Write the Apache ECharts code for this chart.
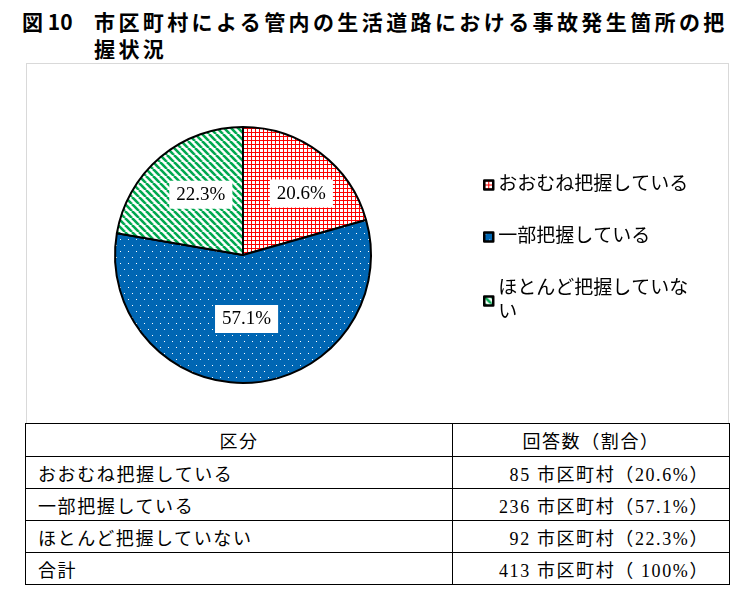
<!DOCTYPE html>
<html>

<head>
    <meta charset="utf-8">
    <title>図10 事故発生箇所の把握状況</title>
    <script src="https://cdn.jsdelivr.net/npm/echarts@6.0.0/dist/echarts.min.js"></script>
    <style>
        body { margin: 0; background: #fff; }
        #page { position: relative; width: 742px; height: 590px; overflow: hidden;
                font-family: 'Liberation Serif', 'Noto Sans CJK JP', serif; color: #000; }
        .title { position: absolute; font-family: 'Noto Sans CJK JP', sans-serif; font-weight: bold;
                 font-size: 21px; line-height: 26px; letter-spacing: 3.4px; white-space: nowrap; }
        #chartBox { position: absolute; left: 26px; top: 63px; width: 701px; height: 359px;
                    border: 1px solid #d9d9d9; }
        #myChart { width: 701px; height: 359px; }
        table { position: absolute; left: 25px; top: 423px; width: 705px; border-collapse: collapse;
                font-size: 18px; letter-spacing: 1.6px; }
        td { border: 1.5px solid #000; height: 31px; padding: 0; }
        td.lbl { padding-left: 12px; }
        td.val { text-align: right; padding-right: 20px; }
        tr.head td { text-align: center; height: 32px; }
    </style>
</head>

<body>
    <div id="page">
        <div class="title" style="left:22px; top:8px; letter-spacing:0;">図 10</div>
        <div class="title" style="left:94px; top:8px;">市区町村による管内の生活道路における事故発生箇所の把</div>
        <div class="title" style="left:94px; top:35px;">握状況</div>
        <div id="chartBox"><div id="myChart"></div></div>
        <table id="tbl"></table>
    </div>

    <script>
        // values
        const categories = ['おおむね把握している', '一部把握している', 'ほとんど把握していない'];
        const counts = [85, 236, 92];
        const percents = ['20.6', '57.1', '22.3'];
        const totalCount = 413;
        const totalPercent = '100';
        const headers = ['区分', '回答数（割合）'];

        // fill patterns like the original
        function gridPattern() {
            const c = document.createElement('canvas');
            c.width = 4; c.height = 4;
            const g = c.getContext('2d');
            g.fillStyle = '#fff'; g.fillRect(0, 0, 4, 4);
            g.fillStyle = '#ff0000';
            g.fillRect(0, 0, 4, 1);
            g.fillRect(0, 0, 1, 4);
            return { image: c, repeat: 'repeat' };
        }
        function dotPattern() {
            const c = document.createElement('canvas');
            c.width = 8; c.height = 12;
            const g = c.getContext('2d');
            g.fillStyle = '#0066b3'; g.fillRect(0, 0, 8, 12);
            g.fillStyle = '#ffffff';
            g.fillRect(1, 1, 1, 1);
            g.fillRect(5, 7, 1, 1);
            return { image: c, repeat: 'repeat' };
        }
        function stripePattern() {
            const c = document.createElement('canvas');
            c.width = 7; c.height = 7;
            const g = c.getContext('2d');
            g.fillStyle = '#fff'; g.fillRect(0, 0, 7, 7);
            g.strokeStyle = '#00a84f'; g.lineWidth = 2.6;
            [-7, 0, 7].forEach(k => {
                g.beginPath(); g.moveTo(k, 0); g.lineTo(k + 7, 7); g.stroke();
            });
            return { image: c, repeat: 'repeat' };
        }

        const fills = [gridPattern(), dotPattern(), stripePattern()];
        const labelOffsets = [[18, -8], [0, -3], [1, -9]];

        // table
        const tbl = document.getElementById('tbl');
        let html = '<colgroup><col style="width:427px"><col></colgroup>';
        html += '<tr class="head"><td>' + headers[0] + '</td><td>' + headers[1] + '</td></tr>';
        categories.forEach((name, i) => {
            html += '<tr><td class="lbl">' + name + '</td><td class="val">' + counts[i] +
                ' 市区町村（' + percents[i] + '%）</td></tr>';
        });
        html += '<tr><td class="lbl">合計</td><td class="val">' + totalCount +
            ' 市区町村（ ' + totalPercent + '%）</td></tr>';
        tbl.innerHTML = html;

        // chart
        const myChart = echarts.init(document.getElementById('myChart'));
        const fontFam = "'Liberation Serif', 'Noto Sans CJK JP', serif";

        const option = {
            animation: false,
            legend: {
                orient: 'vertical',
                left: 451,
                top: 104,
                itemGap: 28,
                itemWidth: 9,
                itemHeight: 9,
                icon: 'rect',
                selectedMode: false,
                itemStyle: { borderColor: '#000', borderWidth: 2.5 },
                textStyle: {
                    fontFamily: fontFam, fontSize: 19, color: '#000',
                    lineHeight: 24, width: 200, overflow: 'break'
                }
            },
            series: [{
                type: 'pie',
                center: [216, 191],
                radius: 128,
                startAngle: 90,
                clockwise: true,
                silent: true,
                itemStyle: { borderColor: '#000', borderWidth: 2 },
                label: {
                    position: 'inside',
                    fontFamily: fontFam,
                    fontSize: 19,
                    color: '#000',
                    backgroundColor: '#fff',
                    padding: [5, 7, 4, 7],
                    formatter: p => percents[p.dataIndex] + '%'
                },
                labelLine: { show: false },
                data: categories.map((name, i) => ({
                    name: name,
                    value: counts[i],
                    itemStyle: { color: fills[i] },
                    label: { offset: labelOffsets[i] }
                }))
            }]
        };

        myChart.setOption(option);
    </script>
</body>

</html>
